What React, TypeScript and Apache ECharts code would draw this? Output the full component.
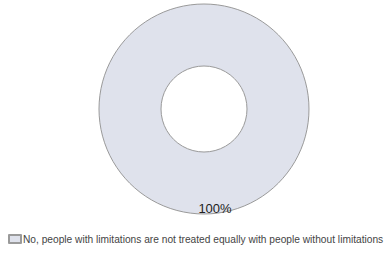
import React, { useEffect, useRef } from "react";
import * as echarts from "echarts";

const categories = ["No, people with limitations are not treated equally with people without limitations"];
const values = [100];
const labels = ["100%"];

export default function App() {
  const ref = useRef<HTMLDivElement>(null);
  useEffect(() => {
    document.body.style.margin = "0";
    const chart = echarts.init(ref.current!, null, { renderer: "svg" });
    chart.setOption({
      animation: false,
      backgroundColor: "#ffffff",
      legend: {
        left: 8,
        top: 234,
        icon: "rect",
        itemWidth: 12,
        itemHeight: 8,
        itemGap: 4,
        padding: 0,
        textStyle: { fontSize: 10.2, color: "#444", fontFamily: "Liberation Sans", padding: [0, 0, 0, -3] },
        data: categories,
      },
      series: [
        {
          type: "pie",
          center: [204, 109],
          radius: [43, 105],
          startAngle: 90,
          data: categories.map((c, i) => ({ name: c, value: values[i] })),
          itemStyle: { color: "#dfe2ec", borderColor: "#9a9a9a", borderWidth: 1 },
          label: {
            show: true,
            position: "inside",
            formatter: (p: any) => labels[p.dataIndex],
            fontSize: 13,
            color: "#222",
            fontFamily: "Liberation Sans",
            offset: [11, 22],
          },
          labelLine: { show: false },
          emphasis: { disabled: true },
        },
      ],
    });
    return () => chart.dispose();
  }, []);
  return <div ref={ref} style={{ width: 386, height: 259 }} />;
}
